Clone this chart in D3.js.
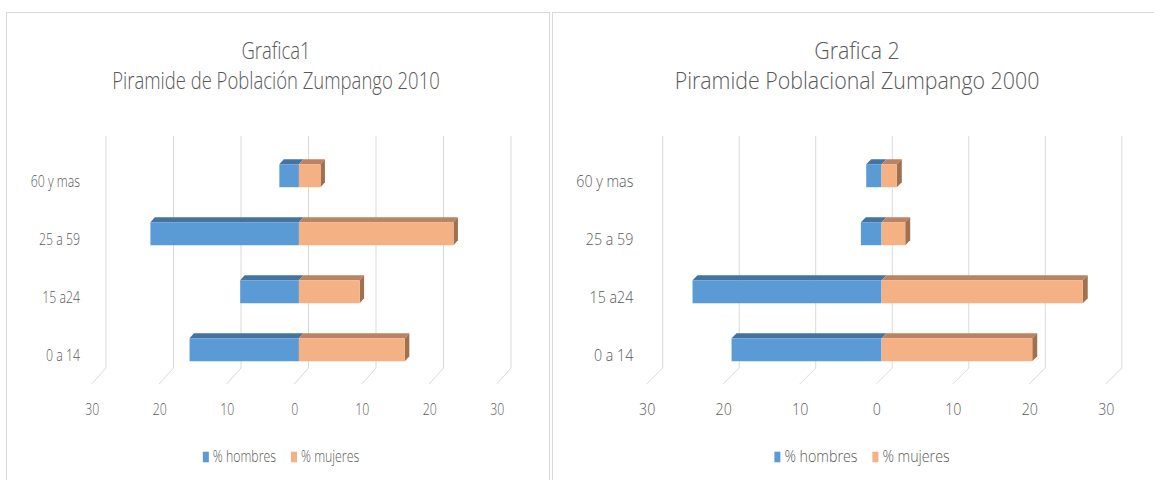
<!doctype html>
<html>
  <head>
    <meta charset="utf-8">
    <title>Piramides de poblacion Zumpango</title>
    <script src="https://cdnjs.cloudflare.com/ajax/libs/d3/7.8.5/d3.min.js"></script>
    <style>
      body { margin: 0; background: #fff; }
      svg { display: block; font-family: "Open Sans", sans-serif; font-weight: 300; }
      text { fill: #595959; }
    </style>
  </head>
  <body>
    <div id="chart"></div>
    <script>
      // data
      const categories = ["0 a 14", "15 a24", "25 a 59", "60 y mas"];
      const hombres2010 = [16.2, 8.7, 22.0, 2.9];
      const mujeres2010 = [15.7, 9.0, 22.9, 3.2];
      const hombres2000 = [19.6, 24.7, 2.7, 2.0];
      const mujeres2000 = [19.7, 26.3, 3.1, 2.0];
      const xTicks = [-30, -20, -10, 0, 10, 20, 30];
      const seriesNames = ["% hombres", "% mujeres"];
      const titles2010 = ["Grafica1", "Piramide de Población Zumpango 2010"];
      const titles2000 = ["Grafica 2", "Piramide Poblacional Zumpango 2000"];

      const W = 1154, H = 480;
      const svg = d3.select("#chart").append("svg")
        .attr("width", W).attr("height", H);

      const colors = {
        h: { front: "#5b9bd5", top: "#4473a2" },
        m: { front: "#f4b183", top: "#ba8363", side: "#a0714f" }
      };

      // squeeze text horizontally like the screenshot, returns new width
      function squeeze(sel, sx) {
        let last = 0;
        sel.each(function () {
          const w = this.getComputedTextLength();
          last = w * sx;
          d3.select(this).attr("textLength", last).attr("lengthAdjust", "spacingAndGlyphs");
        });
        return last;
      }

      function drawPyramid(cfg) {
        const g = svg.append("g");

        // panel border
        g.append("rect")
          .attr("x", cfg.panelX).attr("y", 12.5)
          .attr("width", cfg.panelW).attr("height", 500)
          .attr("fill", "none").attr("stroke", "#d9d9d9");

        // title
        const title = g.selectAll(".title").data(cfg.titles).join("text")
          .attr("class", "title")
          .attr("x", cfg.titleX)
          .attr("y", (d, i) => 59 + i * 30)
          .attr("text-anchor", "middle")
          .attr("font-size", 24)
          .text(d => d);
        squeeze(title, cfg.sx);

        // front plane scales, back plane = front + depth
        const x = d3.scaleLinear().domain([-30, 30]).range(cfg.xRange);
        const y = d3.scalePoint().domain(categories.slice().reverse())
          .range([152, 384]).padding(0.5);
        const [dx, dy] = cfg.depth;

        // wall gridlines and floor
        g.selectAll(".grid").data(xTicks).join("path")
          .attr("class", "grid")
          .attr("d", d => `M${x(d) + dx},${152 + dy}V${384 + dy}L${x(d)},384`)
          .attr("fill", "none").attr("stroke", "#d9d9d9").attr("stroke-width", 1);

        // axis labels on the front edge
        const ax = g.append("g")
          .attr("transform", "translate(0,400.6)")
          .call(d3.axisBottom(x).tickValues(xTicks).tickFormat(d => Math.abs(d)).tickSize(0).tickPadding(3));
        ax.attr("font-family", null).attr("font-size", 16);
        ax.select(".domain").remove();
        ax.selectAll("text").attr("fill", "#595959");
        squeeze(ax.selectAll("text"), cfg.sx);

        // category labels
        const cat = g.selectAll(".cat").data(categories).join("text")
          .attr("class", "cat")
          .attr("x", cfg.catRight)
          .attr("y", d => y(d))
          .attr("dy", "0.35em")
          .attr("text-anchor", "end")
          .attr("font-size", 16)
          .text(d => d);
        squeeze(cat, cfg.sx);

        // 3d bars
        const t0 = 0.33, t1 = 0.64, bh = 23;
        const rows = categories.map((c, i) => ({ c, h: cfg.hombres[i], m: cfg.mujeres[i] }));
        const pt = (px, py, t) => [px + t * dx, py + t * dy];
        const poly = pts => "M" + pts.map(p => p.join(",")).join("L") + "Z";

        rows.forEach(r => {
          const yt = y(r.c) - bh / 2, yb = y(r.c) + bh / 2;
          const x0 = x(0);
          const xh = x(-r.h), xm = x(r.m);

          // hombres (left)
          g.append("path").attr("fill", colors.h.top)
            .attr("d", poly([pt(xh, yt, t0), pt(x0, yt, t0), pt(x0, yt, t1), pt(xh, yt, t1)]));
          g.append("path").attr("fill", colors.h.front)
            .attr("d", poly([pt(xh, yt, t0), pt(x0, yt, t0), pt(x0, yb, t0), pt(xh, yb, t0)]));

          // mujeres (right)
          g.append("path").attr("fill", colors.m.top)
            .attr("d", poly([pt(x0, yt, t0), pt(xm, yt, t0), pt(xm, yt, t1), pt(x0, yt, t1)]));
          g.append("path").attr("fill", colors.m.side)
            .attr("d", poly([pt(xm, yt, t0), pt(xm, yt, t1), pt(xm, yb, t1), pt(xm, yb, t0)]));
          g.append("path").attr("fill", colors.m.front)
            .attr("d", poly([pt(x0, yt, t0), pt(xm, yt, t0), pt(xm, yb, t0), pt(x0, yb, t0)]));
        });

        // legend
        const lg = g.append("g");
        let cx = 0;
        seriesNames.forEach((name, i) => {
          lg.append("rect")
            .attr("x", cx).attr("y", 451.7)
            .attr("width", 6).attr("height", 10.6)
            .attr("fill", i === 0 ? colors.h.front : colors.m.front);
          const t = lg.append("text")
            .attr("x", cx + 10).attr("y", 462.3)
            .attr("font-size", 16)
            .text(name);
          const tw = squeeze(t, cfg.sx);
          cx += 10 + tw + 15;
        });
        const lw = cx - 15;
        lg.attr("transform", `translate(${cfg.legendX - lw / 2},0)`);
      }

      drawPyramid({
        panelX: 6.5, panelW: 543,
        titles: titles2010, titleX: 276,
        xRange: [91.7, 496.7], depth: [14.3, -16],
        catRight: 80, sx: 0.77, legendX: 281,
        hombres: hombres2010, mujeres: mujeres2010
      });

      drawPyramid({
        panelX: 552.5, panelW: 620,
        titles: titles2000, titleX: 857,
        xRange: [646.7, 1105.8], depth: [16, -16],
        catRight: 633.3, sx: 0.89, legendX: 862,
        hombres: hombres2000, mujeres: mujeres2000
      });
    </script>
  </body>
</html>
